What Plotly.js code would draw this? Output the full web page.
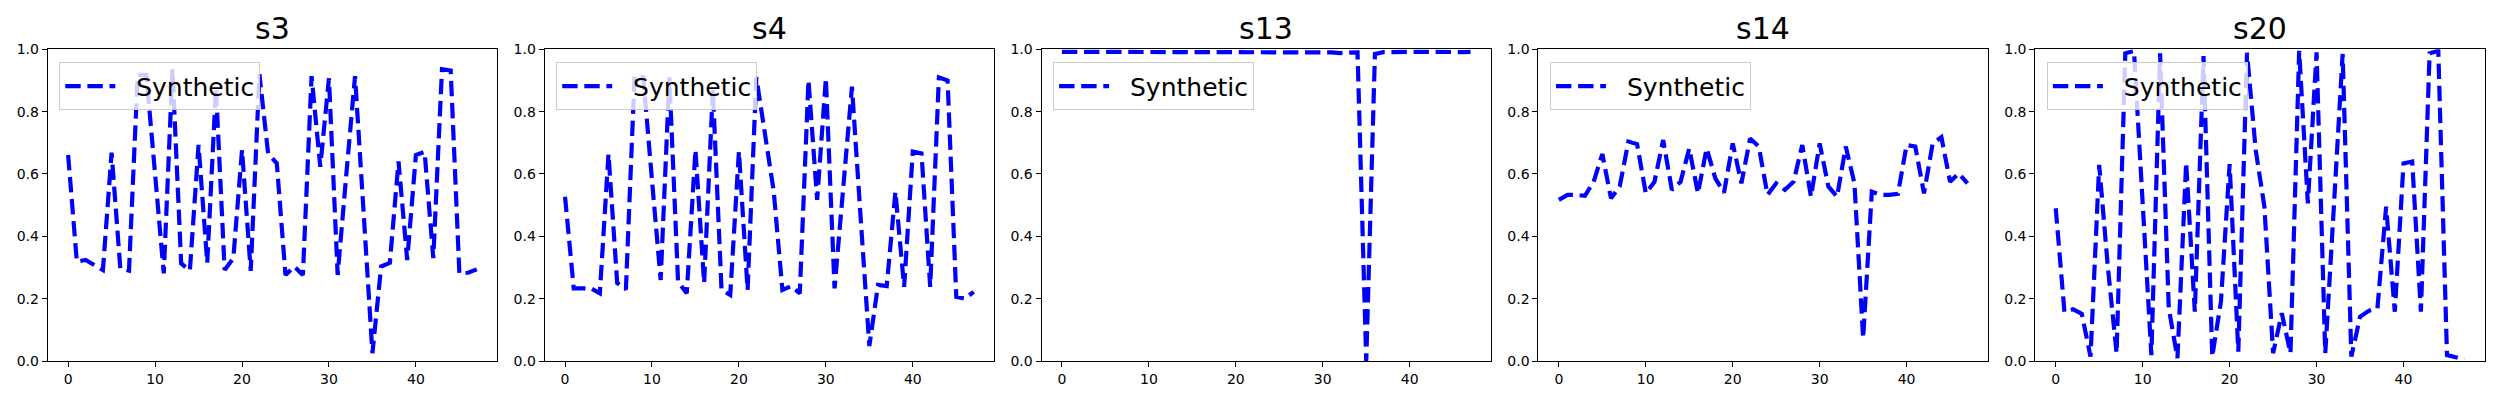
<!DOCTYPE html>
<html><head><meta charset="utf-8">
<script src="https://cdn.plot.ly/plotly-3.0.1.min.js"></script>
<style>html,body{margin:0;padding:0;background:#fff}</style>
</head><body><div id="chart" style="width:2500px;height:400px"></div>
<script>
const panelTitles = ['s3', 's4', 's13', 's14', 's20'];
const seriesName = 'Synthetic';
const xIndex = [0,1,2,3,4,5,6,7,8,9,10,11,12,13,14,15,16,17,18,19,20,21,22,23,24,25,26,27,28,29,30,31,32,33,34,35,36,37,38,39,40,41,42,43,44,45,46,47];
const xTicks = [0, 10, 20, 30, 40];
const yTicks = [0, 0.2, 0.4, 0.6, 0.8, 1.0];

const s3 = [0.661,0.319,0.324,0.308,0.292,0.668,0.297,0.290,0.918,0.918,0.600,0.281,0.936,0.313,0.290,0.693,0.315,0.875,0.292,0.330,0.677,0.289,0.920,0.666,0.634,0.276,0.303,0.276,0.914,0.623,0.907,0.276,0.600,0.914,0.470,0.025,0.303,0.315,0.640,0.324,0.661,0.671,0.330,0.936,0.932,0.281,0.283,0.294];
const s4 = [0.527,0.233,0.233,0.233,0.217,0.664,0.250,0.230,0.915,0.910,0.580,0.260,0.910,0.255,0.217,0.677,0.250,0.870,0.228,0.212,0.672,0.228,0.910,0.720,0.545,0.228,0.240,0.217,0.900,0.517,0.907,0.233,0.550,0.880,0.460,0.048,0.244,0.240,0.543,0.238,0.672,0.666,0.238,0.910,0.900,0.206,0.200,0.222];
const s13 = [0.992,0.992,0.991,0.992,0.992,0.991,0.992,0.992,0.991,0.992,0.992,0.991,0.992,0.992,0.990,0.991,0.992,0.991,0.992,0.992,0.991,0.992,0.992,0.991,0.991,0.990,0.990,0.990,0.989,0.989,0.990,0.990,0.988,0.989,0.990,0.000,0.985,0.991,0.992,0.992,0.991,0.992,0.992,0.991,0.992,0.992,0.991,0.992];
const s14 = [0.517,0.533,0.533,0.530,0.575,0.664,0.522,0.560,0.704,0.696,0.538,0.575,0.709,0.549,0.575,0.682,0.538,0.682,0.586,0.540,0.698,0.570,0.714,0.688,0.533,0.570,0.549,0.575,0.693,0.527,0.698,0.560,0.527,0.688,0.570,0.073,0.543,0.533,0.533,0.536,0.693,0.688,0.538,0.698,0.718,0.575,0.602,0.570];
const s20 = [0.490,0.158,0.166,0.151,0.014,0.629,0.300,0.025,0.987,0.995,0.506,0.019,0.987,0.170,0.009,0.636,0.158,0.978,0.014,0.190,0.632,0.030,0.989,0.677,0.495,0.025,0.153,0.025,0.995,0.506,0.990,0.025,0.500,0.985,0.014,0.142,0.161,0.169,0.495,0.158,0.634,0.640,0.158,0.987,0.995,0.019,0.012,0.005];
const allSeries = [s3, s4, s13, s14, s20];

const W = 2500, H = 400;
const axLeft0 = 47.7, axStep = 496.9, axWidth = 449.5;
const axTop = 49.3, axBottom = 361;
const font = 'DejaVu Sans, sans-serif';

const data = [];
const layout = {
  width: W, height: H,
  margin: {l: 0, r: 0, t: 0, b: 0, pad: 0},
  paper_bgcolor: '#fff', plot_bgcolor: '#fff',
  font: {family: font, color: '#000'},
  annotations: [],
  showlegend: true
};

allSeries.forEach((vals, i) => {
  const n = i + 1;
  const sfx = n === 1 ? '' : String(n);
  const legendKey = 'legend' + sfx;
  data.push({
    x: xIndex, y: vals, type: 'scatter', mode: 'lines',
    name: '\u00a0\u00a0' + seriesName,
    line: {color: '#0000ff', width: 4.2, dash: '15.4px,6.7px'},
    xaxis: 'x' + sfx, yaxis: 'y' + sfx,
    legend: legendKey,
    hoverinfo: 'skip'
  });
  const L = axLeft0 + axStep * i, R = L + axWidth;
  layout['xaxis' + sfx] = {
    domain: [L / W, R / W], anchor: 'y' + sfx,
    range: [-2.35, 49.35], tickvals: xTicks, ticktext: xTicks.map(String),
    ticks: 'outside', ticklen: 5, tickwidth: 1, tickcolor: '#000',
    showline: true, mirror: true, linecolor: '#000', linewidth: 1,
    showgrid: false, zeroline: false,
    tickfont: {family: font, size: 14, color: '#000'}
  };
  layout['yaxis' + sfx] = {
    domain: [1 - axBottom / H, 1 - axTop / H], anchor: 'x' + sfx,
    range: [0, 1], tickvals: yTicks, tickformat: '.1f',
    ticks: 'outside', ticklen: 5, tickwidth: 1, tickcolor: '#000',
    showline: true, mirror: true, linecolor: '#000', linewidth: 1,
    showgrid: false, zeroline: false,
    tickfont: {family: font, size: 14, color: '#000'}
  };
  layout[legendKey] = {
    x: (L + 11.6) / W, y: 1 - 62.3 / H, xanchor: 'left', yanchor: 'top',
    xref: 'paper', yref: 'paper',
    bgcolor: 'rgba(255,255,255,0.8)', bordercolor: '#cccccc', borderwidth: 1,
    font: {family: font, size: 25, color: '#000'},
    itemwidth: 50
  };
  layout.annotations.push({
    text: panelTitles[i], xref: 'paper', yref: 'paper',
    x: (L + R) / 2 / W, y: 1 - axTop / H, xanchor: 'center', yanchor: 'bottom',
    yshift: 1, showarrow: false,
    font: {family: font, size: 30, color: '#000'}
  });
});

Plotly.newPlot('chart', data, layout, {staticPlot: true, displayModeBar: false});
</script></body></html>
